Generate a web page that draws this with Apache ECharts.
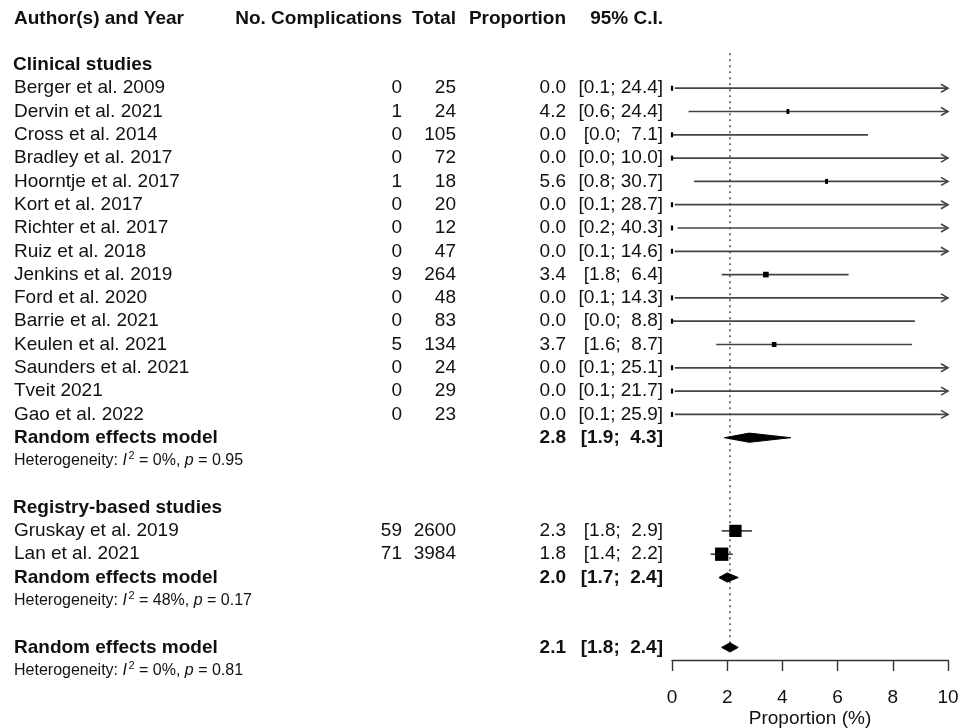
<!DOCTYPE html>
<html>
<head>
<meta charset="utf-8">
<script src="https://cdn.jsdelivr.net/npm/echarts@6/dist/echarts.min.js"></script>
<style>
  html, body { margin: 0; padding: 0; background: #ffffff; }
  #chart { width: 971px; height: 728px; }
</style>
</head>
<body>
<div id="chart"></div>
<script>
// ---- Clinical studies ----
const clinicalStudies = [
  'Berger et al. 2009', 'Dervin et al. 2021', 'Cross et al. 2014', 'Bradley et al. 2017',
  'Hoorntje et al. 2017', 'Kort et al. 2017', 'Richter et al. 2017', 'Ruiz et al. 2018',
  'Jenkins et al. 2019', 'Ford et al. 2020', 'Barrie et al. 2021', 'Keulen et al. 2021',
  'Saunders et al. 2021', 'Tveit 2021', 'Gao et al. 2022'
];
const clinicalEvents = [0, 1, 0, 0, 1, 0, 0, 0, 9, 0, 0, 5, 0, 0, 0];
const clinicalTotals = [25, 24, 105, 72, 18, 20, 12, 47, 264, 48, 83, 134, 24, 29, 23];
const clinicalProp   = [0.0, 4.2, 0.0, 0.0, 5.6, 0.0, 0.0, 0.0, 3.4, 0.0, 0.0, 3.7, 0.0, 0.0, 0.0];
const clinicalLower  = [0.1, 0.6, 0.0, 0.0, 0.8, 0.1, 0.2, 0.1, 1.8, 0.1, 0.0, 1.6, 0.1, 0.1, 0.1];
const clinicalUpper  = [24.4, 24.4, 7.1, 10.0, 30.7, 28.7, 40.3, 14.6, 6.4, 14.3, 8.8, 8.7, 25.1, 21.7, 25.9];

// ---- Registry-based studies ----
const registryStudies = ['Gruskay et al. 2019', 'Lan et al. 2021'];
const registryEvents  = [59, 71];
const registryTotals  = [2600, 3984];
const registryProp    = [2.3, 1.8];
const registryLower   = [1.8, 1.4];
const registryUpper   = [2.9, 2.2];

// ---- Pooled estimates: [estimate, lower, upper] ----
const clinicalPooled = [2.8, 1.9, 4.3];
const registryPooled = [2.0, 1.7, 2.4];
const overallPooled  = [2.1, 1.8, 2.4];

// ---- Heterogeneity (clinical, registry, overall) ----
const hetI2 = [0, 48, 0];
const hetP  = ['0.95', '0.17', '0.81'];

// ---- Labels ----
const columnHeaders = ['Author(s) and Year', 'No. Complications', 'Total', 'Proportion', '95% C.I.'];
const groupTitles = ['Clinical studies', 'Registry-based studies'];
const pooledLabel = 'Random effects model';
const axisTitle = 'Proportion (%)';
const xTicks = [0, 2, 4, 6, 8, 10];

// ---- Layout ----
const FONT = '"Liberation Sans", Arial, Helvetica, sans-serif';
const FS = 19, FS_HET = 16, FS_SUP = 11;
const TOP = 18.3, AXIS_Y = 660, ROW_H = 23.3;
const PLOT_L = 672, PLOT_R = 948;
const COL = { name: 14, events: 402, total: 456, prop: 566, ci: 663 };
const TXT = '#111111', LINE = '#444444';

const fmt1 = v => v.toFixed(1);
const pad = (s, n) => ' '.repeat(Math.max(0, n - s.length)) + s;
const ciText = (lo, hi) => '[' + pad(fmt1(lo), 3) + '; ' + pad(fmt1(hi), 4) + ']';

// Text measuring helper for the inline heterogeneity statement
const measureCtx = document.createElement('canvas').getContext('2d');
function textWidth(s, size, style) {
  measureCtx.font = (style || 'normal') + ' ' + size + 'px ' + FONT;
  return measureCtx.measureText(s).width;
}

// Build the table rows (row index = vertical slot)
const rows = [];
const studyMarks = [];   // [prop, lower, upper, row, events]
const diamonds = [];     // [est, lower, upper, row]
rows.push({ row: 0, kind: 'header' });
let r = 2;
function addGroup(title, names, ev, tot, pr, lo, hi, pooled, hetIdx) {
  rows.push({ row: r++, kind: 'title', text: title });
  names.forEach((n, i) => {
    rows.push({ row: r, kind: 'study', name: n, events: ev[i], total: tot[i], prop: pr[i], lo: lo[i], hi: hi[i] });
    studyMarks.push([pr[i], lo[i], hi[i], r, ev[i]]);
    r++;
  });
  rows.push({ row: r, kind: 'pooled', est: pooled[0], lo: pooled[1], hi: pooled[2] });
  diamonds.push([pooled[0], pooled[1], pooled[2], r]);
  r++;
  rows.push({ row: r++, kind: 'het', i2: hetI2[hetIdx], p: hetP[hetIdx] });
  r++; // blank row
}
addGroup(groupTitles[0], clinicalStudies, clinicalEvents, clinicalTotals, clinicalProp, clinicalLower, clinicalUpper, clinicalPooled, 0);
addGroup(groupTitles[1], registryStudies, registryEvents, registryTotals, registryProp, registryLower, registryUpper, registryPooled, 1);
rows.push({ row: r, kind: 'pooled', est: overallPooled[0], lo: overallPooled[1], hi: overallPooled[2] });
diamonds.push([overallPooled[0], overallPooled[1], overallPooled[2], r]);
r++;
rows.push({ row: r, kind: 'het', i2: hetI2[2], p: hetP[2] });

const Y_MAX = (AXIS_Y - TOP) / ROW_H;
const X_MIN = xTicks[0], X_MAX = xTicks[xTicks.length - 1];

function txt(text, x, y, align, bold, size, italic) {
  return {
    type: 'text',
    style: {
      text: text, x: x, y: y, fill: TXT, align: align, verticalAlign: 'middle',
      fontSize: size || FS, fontWeight: bold ? 'bold' : 'normal',
      fontStyle: italic ? 'italic' : 'normal', fontFamily: FONT
    }
  };
}

// "Heterogeneity: I² = x%, p = y" laid out piece by piece
function hetPieces(o, y) {
  const parts = [
    { s: 'Heterogeneity: ', it: false, sup: false },
    { s: 'I', it: true, sup: false },
    { s: '2', it: false, sup: true },
    { s: ' = ' + o.i2 + '%, ', it: false, sup: false },
    { s: 'p', it: true, sup: false },
    { s: ' = ' + o.p, it: false, sup: false }
  ];
  let x = COL.name;
  const out = [];
  parts.forEach(pt => {
    const size = pt.sup ? FS_SUP : FS_HET;
    const xx = pt.sup ? x + 1.5 : x;
    out.push(txt(pt.s, xx, pt.sup ? y - 5 : y, 'left', false, size, pt.it));
    x = xx + textWidth(pt.s, size, pt.it ? 'italic' : 'normal');
  });
  return out;
}

const chart = echarts.init(document.getElementById('chart'), null, { renderer: 'canvas' });

const option = {
  backgroundColor: '#ffffff',
  animation: false,
  grid: {
    left: PLOT_L, right: 971 - PLOT_R, top: TOP, bottom: 728 - AXIS_Y,
    containLabel: false, outerBoundsMode: 'none'
  },
  xAxis: {
    type: 'value', min: X_MIN, max: X_MAX, interval: xTicks[1] - xTicks[0],
    position: 'bottom',
    axisLine: { show: true, onZero: false, lineStyle: { color: '#333333', width: 1.4 } },
    axisTick: { show: true, inside: false, length: 11, lineStyle: { color: '#333333', width: 1.4 } },
    axisLabel: { show: true, margin: 28, fontSize: FS, color: TXT, fontFamily: FONT },
    splitLine: { show: false },
    name: axisTitle, nameLocation: 'middle', nameGap: 49, nameMoveOverlap: false,
    nameTextStyle: { fontSize: FS, color: TXT, fontFamily: FONT }
  },
  yAxis: {
    type: 'value', inverse: true, min: 0, max: Y_MAX, show: false,
    splitLine: { show: false }
  },
  series: [
    // Reference line at the overall pooled estimate
    {
      type: 'custom', clip: false, silent: true,
      data: [[overallPooled[0]]],
      renderItem: function (params, api) {
        const a = api.coord([api.value(0), 1.5]);
        const b = api.coord([api.value(0), 27.2]);
        return {
          type: 'line',
          shape: { x1: a[0], y1: a[1], x2: b[0], y2: b[1] },
          style: { stroke: '#555555', lineWidth: 1.6, lineDash: [2, 4] }
        };
      }
    },
    // Table text
    {
      type: 'custom', clip: false, silent: true,
      data: rows.map(o => [0, o.row]),
      renderItem: function (params, api) {
        const o = rows[params.dataIndex];
        const y = api.coord([0, api.value(1)])[1];
        let ch = [];
        if (o.kind === 'header') {
          ch.push(txt(columnHeaders[0], COL.name, y, 'left', true));
          ch.push(txt(columnHeaders[1], COL.events, y, 'right', true));
          ch.push(txt(columnHeaders[2], COL.total, y, 'right', true));
          ch.push(txt(columnHeaders[3], COL.prop, y, 'right', true));
          ch.push(txt(columnHeaders[4], COL.ci, y, 'right', true));
        } else if (o.kind === 'title') {
          ch.push(txt(o.text, COL.name - 1, y, 'left', true));
        } else if (o.kind === 'study') {
          ch.push(txt(o.name, COL.name, y, 'left', false));
          ch.push(txt(String(o.events), COL.events, y, 'right', false));
          ch.push(txt(String(o.total), COL.total, y, 'right', false));
          ch.push(txt(fmt1(o.prop), COL.prop, y, 'right', false));
          ch.push(txt(ciText(o.lo, o.hi), COL.ci, y, 'right', false));
        } else if (o.kind === 'pooled') {
          ch.push(txt(pooledLabel, COL.name, y, 'left', true));
          ch.push(txt(fmt1(o.est), COL.prop, y, 'right', true));
          ch.push(txt(ciText(o.lo, o.hi), COL.ci, y, 'right', true));
        } else if (o.kind === 'het') {
          ch = ch.concat(hetPieces(o, y));
        }
        return { type: 'group', children: ch };
      }
    },
    // Study confidence intervals and squares
    {
      type: 'custom', clip: false, silent: true,
      data: studyMarks,
      renderItem: function (params, api) {
        const est = api.value(0), lo = api.value(1), hi = api.value(2), row = api.value(3), ev = api.value(4);
        const p = api.coord([est, row]);
        const a = api.coord([Math.max(lo, X_MIN), row]);
        const b = api.coord([Math.min(hi, X_MAX), row]);
        const ch = [{
          type: 'line',
          shape: { x1: a[0], y1: a[1], x2: b[0], y2: b[1] },
          style: { stroke: LINE, lineWidth: 1.7 }
        }];
        if (hi >= X_MAX) {
          ch.push({
            type: 'polyline',
            shape: { points: [[b[0] - 7, b[1] - 4], [b[0], b[1]], [b[0] - 7, b[1] + 4]] },
            style: { stroke: LINE, lineWidth: 1.6, fill: null }
          });
        }
        const s = 1.4 * Math.sqrt(ev) + 1.5;
        const w = Math.max(s, 2.2), h = Math.max(s, 5);
        ch.push({
          type: 'rect',
          shape: { x: p[0] - w / 2, y: p[1] - h / 2, width: w, height: h },
          style: { fill: '#000000' }
        });
        return { type: 'group', children: ch };
      }
    },
    // Pooled diamonds
    {
      type: 'custom', clip: false, silent: true,
      data: diamonds,
      renderItem: function (params, api) {
        const row = api.value(3);
        const c = api.coord([api.value(0), row]);
        const l = api.coord([api.value(1), row]);
        const rr = api.coord([api.value(2), row]);
        const hh = 4.6;
        return {
          type: 'polygon',
          shape: { points: [[l[0], c[1]], [c[0], c[1] - hh], [rr[0], c[1]], [c[0], c[1] + hh]] },
          style: { fill: '#000000', stroke: '#000000', lineWidth: 1 }
        };
      }
    }
  ]
};

chart.setOption(option);
</script>
</body>
</html>
